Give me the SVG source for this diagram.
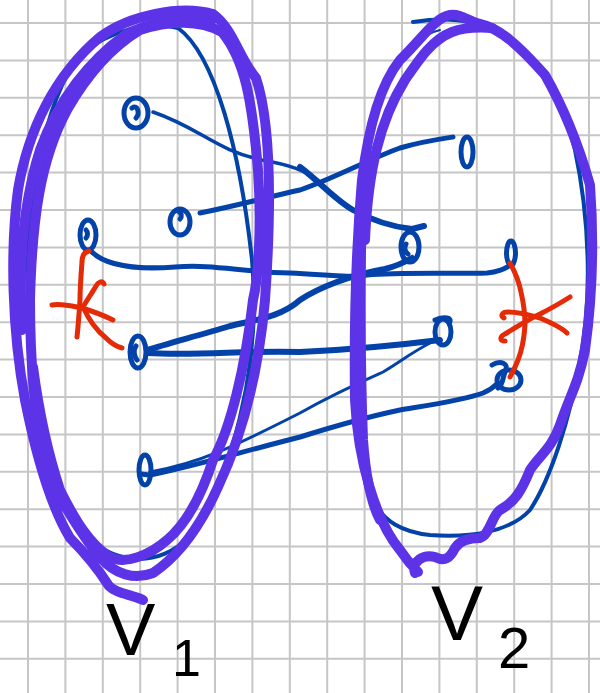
<svg xmlns="http://www.w3.org/2000/svg" width="600" height="693" viewBox="0 0 600 693">
<style>
.grid{stroke:#c6c6c6;stroke-width:2;fill:none}
.blue{stroke:#0342a8;fill:none;stroke-linecap:round;stroke-linejoin:round}
.node{stroke:#0342a8;fill:none;stroke-width:5;stroke-linecap:round}
.red{stroke:#e42a06;fill:none;stroke-width:5;stroke-linecap:round;stroke-linejoin:round}
.purple{stroke:#5d33e8;fill:none;stroke-width:10;stroke-linecap:round;stroke-linejoin:round}
.lbl{font-family:"Liberation Sans",Arial,sans-serif;fill:#000}
</style>
<rect width="600" height="693" fill="#fff"/>
<g id="grid" class="grid">
<path d="M28,0V693M65.4,0V693M102.8,0V693M140.2,0V693M177.6,0V693M215,0V693M252.4,0V693M289.8,0V693M327.2,0V693M364.6,0V693M402,0V693M439.4,0V693M476.8,0V693M514.2,0V693M551.6,0V693M589,0V693"/>
<path d="M0,23H600M0,60.4H600M0,97.8H600M0,135.2H600M0,172.6H600M0,210H600M0,247.4H600M0,284.8H600M0,322.2H600M0,359.6H600M0,397H600M0,434.4H600M0,471.8H600M0,509.2H600M0,546.6H600M0,584H600M0,621.4H600M0,658.8H600"/>
</g>
<g id="set-outlines-blue" class="blue" stroke-width="4">
<path d="M178,28 C215,55 240,150 252,260 C262,370 230,480 190,535 C160,570 110,565 80,530 C50,480 30,400 28,300 C25,200 45,100 80,55 C110,30 150,20 178,28"/>
<path d="M413,22 C440,18 470,18 490,30 C530,50 560,90 575,150 C590,220 592,300 580,360 C570,420 550,480 530,510 C510,532 470,538 430,535 C400,532 385,520 375,505"/>
<path d="M440,30 C420,35 405,50 395,70" stroke-width="2"/>
</g>
<g id="connectors" class="blue">
<path d="M153,112 C200,128 215,150 262,160 C290,165 305,170 320,182" stroke-width="3.5"/>
<path d="M300,167 C320,182 335,200 353,210 C375,222 395,227 412,229 L424,226" stroke-width="6"/>
<path d="M200,213 C240,205 268,197 300,190 C335,178 367,160 400,148 C420,142 440,139 453,137" stroke-width="5"/>
<path d="M92,252 C105,265 135,270 175,267 C215,264 240,272 290,273 C330,275 350,278 367,275 C400,272 450,274 487,273 C500,272 505,268 513,264" stroke-width="5"/>
<path d="M147,350 C170,343 200,335 230,326 C260,319 282,316 300,300 C318,288 350,275 385,269 C397,266 405,262 412,258" stroke-width="6"/>
<path d="M147,353 C200,356 245,350 300,352 C345,350 400,345 440,340" stroke-width="6"/>
<path d="M150,472 C200,463 233,447 300,413 C335,393 365,380 383,372 C400,362 412,352 432,342" stroke-width="3"/>
<path d="M150,475 C190,467 230,455 300,437 C335,426 367,417 400,410 C430,405 465,400 483,393 C490,390 494,387 498,383" stroke-width="5"/>
</g>
<g id="node-a"><ellipse class="node" cx="136" cy="113" rx="12" ry="15" stroke-width="6"/><path class="node" d="M132,108 C138,104 140,114 136,118" stroke-width="3"/></g>
<g id="node-b"><ellipse class="node" cx="180" cy="222" rx="10" ry="13"/><path class="node" d="M178,211 C182,213 182,217 180,219" stroke-width="3"/></g>
<g id="node-c"><ellipse class="node" cx="88" cy="235" rx="8" ry="15"/><path class="node" d="M86,230 C88,232 88,236 86,238" stroke-width="3"/></g>
<g id="node-d"><ellipse class="node" cx="138" cy="352" rx="8" ry="16"/><path class="node" d="M136,346 C133,350 134,356 137,360" stroke-width="3"/></g>
<g id="node-e"><ellipse class="node" cx="145" cy="470" rx="6" ry="15"/><path class="node" d="M141,474 L149,475" stroke-width="3"/></g>
<g id="node-f"><ellipse class="node" cx="467" cy="152" rx="6" ry="15"/></g>
<g id="node-g"><ellipse class="node" cx="410" cy="247" rx="9" ry="15"/><path class="node" d="M406,244 C404,248 405,252 408,254" stroke-width="3"/></g>
<g id="node-h"><ellipse class="node" cx="511" cy="253" rx="4.5" ry="12"/></g>
<g id="node-i"><ellipse class="node" cx="443" cy="332" rx="8" ry="13"/><path class="node" d="M435,320 C445,316 452,318 450,322" stroke-width="3"/></g>
<g id="node-j"><ellipse class="node" cx="509" cy="380" rx="12" ry="10"/><path class="node" d="M492,365 C500,360 510,363 505,372 C502,380 503,385 498,388" stroke-width="4"/></g>
<g id="cut-v1">
<path class="red" d="M89,251 C84,252 82,256 82,262 C81,275 80,290 80,300 C79,315 78,328 77,337"/>
<path class="red" d="M104,284 C102,280 98,282 96,286 C92,293 87,300 83,307 C88,318 96,330 106,338 C112,344 118,347 122,348"/>
<path class="red" d="M52,305 C60,303 72,306 82,308 C95,312 105,316 113,320"/>
</g>
<g id="cut-v2">
<path class="red" d="M510,263 C515,272 519,282 521,292 C524,305 525,315 525,325 C524,340 522,350 518,360 C515,368 512,373 510,377"/>
<path class="red" d="M504,318 C500,316 502,312 508,312 C518,312 530,315 540,318 C552,323 562,328 567,333"/>
<path class="red" d="M505,341 C499,341 500,336 505,334 C515,328 527,320 540,314 C552,308 562,302 570,297"/>
</g>
<g id="set-V1">
<path class="purple" d="M143,600 C130,594 117,594 109,586 C100,572 88,556 70,538 C50,505 35,450 25,400 C12,330 10,250 18,190 C28,130 55,75 100,37 C130,15 180,5 213,14 C233,28 240,60 256,78 C270,120 272,200 265,300 C258,380 240,440 218,487 C200,527 180,555 153,573 C135,580 115,575 100,557 C85,540 60,500 45,470"/>
<path class="purple" d="M45,470 C35,420 30,360 30,300 C32,220 40,160 67,110 C90,70 115,45 140,30 C170,20 200,20 222,32 C245,60 252,100 258,170 C262,230 258,280 253,300 C245,370 230,430 213,460 C200,500 185,525 167,540 C150,555 125,565 110,557 C90,545 75,520 60,490 C50,460 40,420 33,367"/>
<path class="purple" d="M22,330 C18,260 24,200 40,150 C58,100 90,60 125,35 C150,22 185,15 212,20" stroke-width="8"/>
</g>
<g id="set-V2">
<path class="purple" d="M415,573 C411,561 424,554 435,557 C445,562 450,558 455,548 C460,540 470,538 480,538 C490,535 492,515 500,510 C515,502 522,490 530,470 C540,455 552,448 560,425 C570,395 578,385 585,350 C592,300 594,240 590,185 C580,150 565,110 545,75 C520,47 500,28 480,24 C470,22 460,13 450,15 C435,18 425,35 400,60 C380,85 368,130 362,180 C356,250 354,330 355,400 C358,460 375,520 400,550 C408,562 414,568 418,572"/>
<path class="purple" d="M365,240 C368,170 380,120 405,80 C420,58 432,40 452,32 C465,27 478,27 492,28"/>
<path class="purple" d="M362,200 C360,280 360,360 363,440 C366,480 372,505 380,520" stroke-width="7"/>
</g>
<g id="labels">
<text class="lbl" x="106" y="655" font-size="74">V</text>
<text class="lbl" x="172" y="676" font-size="52">1</text>
<text class="lbl" x="431" y="640" font-size="78">V</text>
<text class="lbl" x="498" y="668" font-size="58">2</text>
</g>
</svg>
